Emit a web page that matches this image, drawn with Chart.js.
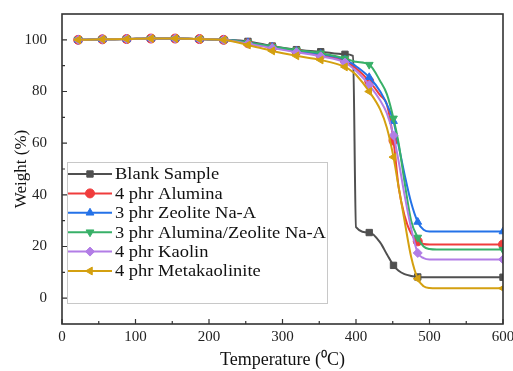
<!DOCTYPE html>
<html>
<head>
<meta charset="utf-8">
<script src="https://cdn.jsdelivr.net/npm/chart.js@4.4.0/dist/chart.umd.min.js"></script>
<style>
  html, body { margin: 0; padding: 0; background: #fff; }
</style>
</head>
<body>
<canvas id="tga-chart" width="513" height="371"></canvas>
<script>
// TGA curves - weight loss vs temperature
const temps = [22, 55, 88, 121, 154, 187, 220, 253, 286, 319, 352, 385, 396, 400, 418, 433, 442, 451, 458, 466, 475, 484, 492, 500, 510, 540, 570, 600];
const markerTemps = [22, 55, 88, 121, 154, 187, 220, 253, 286, 319, 352, 385, 418, 451, 484, 600];

const blankSample = [100.0, 100.2, 100.3, 100.5, 100.5, 100.3, 100.0, 99.4, 97.6, 96.2, 95.4, 94.4, 93.8, 27.5, 25.4, 21.5, 17.0, 12.7, 10.6, 9.3, 8.6, 8.2, 8.1, 8.1, 8.1, 8.1, 8.1, 8.1];
const alumina = [100.0, 100.2, 100.3, 100.5, 100.5, 100.3, 100.0, 98.7, 97.0, 95.5, 94.0, 91.8, 89.8, 89.0, 84.0, 78.5, 75.0, 61.0, 43.0, 32.0, 25.0, 22.0, 21.0, 20.8, 20.8, 20.8, 20.8, 20.8];
const zeolite = [100.0, 100.2, 100.3, 100.5, 100.5, 100.3, 100.0, 99.0, 97.3, 95.8, 94.5, 92.3, 90.6, 89.8, 85.5, 80.0, 75.0, 68.5, 59.0, 48.0, 37.0, 29.5, 26.5, 25.8, 25.8, 25.8, 25.8, 25.8];
const aluminaZeolite = [100.0, 100.2, 100.3, 100.5, 100.5, 100.3, 100.0, 99.0, 97.4, 96.0, 94.8, 92.8, 91.8, 91.5, 90.4, 84.0, 79.0, 69.6, 60.0, 45.0, 30.0, 23.5, 20.0, 19.0, 18.8, 18.8, 18.8, 18.8];
const kaolin = [100.0, 100.2, 100.3, 100.5, 100.5, 100.3, 100.0, 98.5, 96.8, 95.2, 93.6, 91.2, 89.0, 88.0, 82.5, 76.5, 71.5, 63.0, 53.0, 40.0, 27.0, 17.5, 15.5, 15.0, 15.0, 15.0, 15.0, 15.0];
const metakaolinite = [100.0, 100.2, 100.3, 100.5, 100.5, 100.3, 100.0, 98.0, 95.7, 93.8, 92.2, 89.5, 87.5, 86.5, 80.0, 73.0, 66.0, 54.6, 43.0, 30.0, 16.0, 7.5, 4.6, 3.9, 3.8, 3.8, 3.8, 3.8];

const seriesNames = ['Blank Sample', '4 phr Alumina', '3 phr Zeolite Na-A', '3 phr Alumina/Zeolite Na-A', '4 phr Kaolin', '4 phr Metakaolinite'];
const seriesValues = [blankSample, alumina, zeolite, aluminaZeolite, kaolin, metakaolinite];
const seriesColors = ['#505050', '#f03c3c', '#2472e8', '#38b068', '#b27de6', '#d4a010'];
const seriesMarkers = ['rect', 'circle', 'triangle', 'triangle', 'rectRot', 'triangle'];
const markerRotations = [0, 0, 0, 180, 0, -90];

const xTicks = [0, 100, 200, 300, 400, 500, 600];
const yTicks = [0, 20, 40, 60, 80, 100];

const SERIF = '"Liberation Serif", "Times New Roman", serif';

const datasets = seriesNames.map((name, i) => ({
    label: name,
    data: temps.map((t, j) => ({ x: t, y: seriesValues[i][j] })),
    borderColor: seriesColors[i],
    backgroundColor: seriesColors[i],
    pointBackgroundColor: seriesColors[i],
    pointBorderColor: seriesColors[i],
    pointBorderWidth: 1,
    pointStyle: seriesMarkers[i],
    pointRotation: markerRotations[i],
    pointRadius: ctx => markerTemps.includes(temps[ctx.dataIndex]) ? 4.5 : 0,
    borderWidth: 2,
    cubicInterpolationMode: 'monotone',
    fill: false,
    order: seriesNames.length - i
}));

// frame + inward ticks like the original plot
const framePlugin = {
    id: 'frame',
    afterDatasetsDraw(chart) {
        const { ctx, chartArea: a, scales } = chart;
        ctx.save();
        ctx.strokeStyle = '#333';
        ctx.lineWidth = 1.6;
        ctx.strokeRect(a.left, a.top, a.right - a.left, a.bottom - a.top);

        ctx.lineWidth = 1.2;
        ctx.beginPath();
        xTicks.forEach((v, i) => {
            const px = scales.x.getPixelForValue(v);
            ctx.moveTo(px, a.bottom);
            ctx.lineTo(px, a.bottom - 5);
            if (i < xTicks.length - 1) {
                const mx = scales.x.getPixelForValue((v + xTicks[i + 1]) / 2);
                ctx.moveTo(mx, a.bottom);
                ctx.lineTo(mx, a.bottom - 3);
            }
        });
        yTicks.forEach((v, i) => {
            const py = scales.y.getPixelForValue(v);
            ctx.moveTo(a.left, py);
            ctx.lineTo(a.left + 5, py);
            if (i < yTicks.length - 1) {
                const my = scales.y.getPixelForValue((v + yTicks[i + 1]) / 2);
                ctx.moveTo(a.left, my);
                ctx.lineTo(a.left + 3, my);
            }
        });
        ctx.stroke();
        ctx.restore();
    }
};

// legend box drawn inside the plot, lower left
const insideLegend = {
    id: 'insideLegend',
    afterDraw(chart) {
        const { ctx } = chart;
        const box = { left: 67, top: 162, right: 327, bottom: 303 };
        const rowTop = 174, rowGap = 19.4;
        ctx.save();
        ctx.fillStyle = '#fff';
        ctx.fillRect(box.left, box.top, box.right - box.left, box.bottom - box.top);
        ctx.strokeStyle = '#c8c8c8';
        ctx.lineWidth = 1;
        ctx.strokeRect(box.left + 0.5, box.top + 0.5, box.right - box.left, box.bottom - box.top);

        chart.data.datasets.forEach((ds, i) => {
            const y = rowTop + i * rowGap;
            ctx.strokeStyle = ds.borderColor;
            ctx.fillStyle = ds.borderColor;
            ctx.lineWidth = 2;
            ctx.beginPath();
            ctx.moveTo(68, y);
            ctx.lineTo(112, y);
            ctx.stroke();
            ctx.lineWidth = 1;
            Chart.helpers.drawPoint(ctx, {
                pointStyle: ds.pointStyle,
                rotation: ds.pointRotation,
                radius: 4.5,
                borderWidth: 1
            }, 90, y);

            ctx.save();
            ctx.translate(115, y);
            ctx.scale(1.12, 1);
            ctx.fillStyle = '#111';
            ctx.font = '16.5px ' + SERIF;
            ctx.textBaseline = 'middle';
            ctx.fillText(ds.label, 0, 1);
            ctx.restore();
        });
        ctx.restore();
    }
};

new Chart(document.getElementById('tga-chart'), {
    type: 'line',
    data: { datasets },
    plugins: [framePlugin, insideLegend],
    options: {
        responsive: false,
        animation: false,
        layout: { padding: { top: 14, right: 10, left: 0, bottom: 0 } },
        plugins: {
            legend: { display: false },
            tooltip: { enabled: false }
        },
        scales: {
            x: {
                type: 'linear',
                min: 0,
                max: 600,
                afterBuildTicks: s => { s.ticks = xTicks.map(v => ({ value: v })); },
                afterFit: s => { s.height = 47; s.paddingLeft = 0; s.paddingRight = 0; },
                grid: { display: false },
                border: { display: false },
                ticks: {
                    color: '#222',
                    font: { family: SERIF, size: 15 },
                    padding: -4,
                    maxRotation: 0
                },
                title: {
                    display: true,
                    text: 'Temperature (\u2070C)',
                    color: '#111',
                    font: { family: SERIF, size: 18 },
                    padding: { top: 0, bottom: 0 }
                }
            },
            y: {
                min: -10,
                max: 110,
                afterBuildTicks: s => { s.ticks = yTicks.map(v => ({ value: v })); },
                afterFit: s => { s.width = 62; s.paddingTop = 0; s.paddingBottom = 0; },
                grid: { display: false },
                border: { display: false },
                ticks: {
                    color: '#222',
                    font: { family: SERIF, size: 15 },
                    padding: 7
                },
                title: {
                    display: true,
                    text: 'Weight (%)',
                    color: '#111',
                    font: { family: SERIF, size: 17 },
                    padding: { top: 11, bottom: 0 }
                }
            }
        }
    }
});
</script>
</body>
</html>
